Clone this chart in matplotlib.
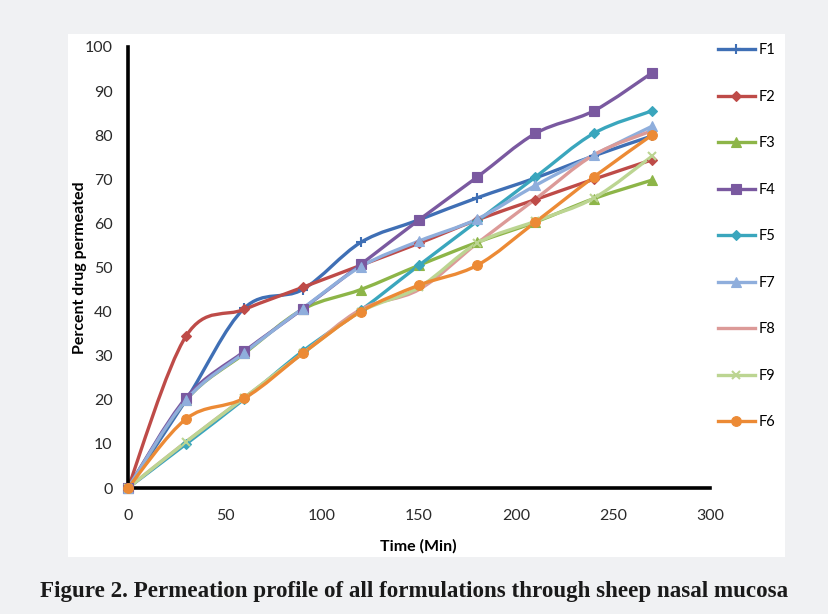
import matplotlib
matplotlib.use("Agg")
import matplotlib.pyplot as plt
from matplotlib.path import Path
from matplotlib.patches import PathPatch, Rectangle
from matplotlib.lines import Line2D

# Time points (min)
time = [0, 30, 60, 90, 120, 150, 180, 210, 240, 270]

# Percent drug permeated
f1 = [0, 20.0, 40.8, 45.0, 55.7, 60.8, 65.8, 70.3, 75.3, 79.8]
f2 = [0, 34.5, 40.5, 45.5, 50.5, 55.5, 60.8, 65.4, 70.0, 74.4]
f3 = [0, 20.0, 30.5, 40.5, 45.0, 50.5, 55.7, 60.3, 65.6, 69.8]
f4 = [0, 20.5, 31.0, 40.6, 50.7, 60.8, 70.5, 80.4, 85.5, 94.1]
f5 = [0, 10.0, 20.2, 31.0, 40.3, 50.5, 60.5, 70.5, 80.4, 85.5]
f7 = [0, 20.0, 30.7, 40.7, 50.2, 56.0, 61.0, 68.6, 75.5, 82.0]
f8 = [0, 10.5, 20.5, 30.5, 40.5, 45.0, 55.5, 65.5, 75.5, 81.0]
f9 = [0, 10.5, 20.5, 30.5, 40.0, 45.5, 55.5, 60.5, 65.7, 75.2]
f6 = [0, 15.7, 20.4, 30.5, 40.0, 46.0, 50.5, 60.3, 70.5, 80.0]

labels = ["F1", "F2", "F3", "F4", "F5", "F7", "F8", "F9", "F6"]
series = [f1, f2, f3, f4, f5, f7, f8, f9, f6]
colors = ["#3f6fb5", "#be4b48", "#8db548", "#7a59a0", "#3aa6bd",
          "#8faedc", "#dc9a98", "#bcd592", "#ec8a35"]
markers = ["+", "D", "^", "s", "D", "^", "", "x", "o"]
msizes = [7, 5, 7, 7, 5, 7, 0, 6, 7]


def smooth_path(x, y):
    # Excel-style smoothed line: Catmull-Rom segments as cubic Bezier curves
    pts = list(zip(x, y))
    n = len(pts)
    verts = [pts[0]]
    codes = [Path.MOVETO]
    for i in range(n - 1):
        p0 = pts[i - 1] if i > 0 else pts[i]
        p1 = pts[i]
        p2 = pts[i + 1]
        p3 = pts[i + 2] if i + 2 < n else pts[i + 1]
        c1 = (p1[0] + (p2[0] - p0[0]) / 6, p1[1] + (p2[1] - p0[1]) / 6)
        c2 = (p2[0] - (p3[0] - p1[0]) / 6, p2[1] - (p3[1] - p1[1]) / 6)
        verts += [c1, c2, p2]
        codes += [Path.CURVE4] * 3
    return Path(verts, codes)


fig = plt.figure(figsize=(8.29, 6.14), dpi=100)
fig.patch.set_facecolor("#f0f1f3")

# white chart panel
fig.patches.append(Rectangle((68 / 829, 1 - 557 / 614), 717 / 829, 523 / 614,
                             transform=fig.transFigure, facecolor="white",
                             edgecolor="none", zorder=-5))

ax = fig.add_axes([128 / 829, 1 - 488 / 614, 582 / 829, 441 / 614])
ax.set_facecolor("none")

handles = []
for lab, vals, c, m, s in zip(labels, series, colors, markers, msizes):
    patch = PathPatch(smooth_path(time, vals), facecolor="none", edgecolor=c,
                      lw=2.4, capstyle="round", joinstyle="round", zorder=2)
    ax.add_patch(patch)
    if m:
        ax.plot(time, vals, linestyle="none", marker=m, color=c, markersize=s,
                markeredgewidth=1.5 if m in "+x" else 0.8, clip_on=False, zorder=3)
    handles.append(Line2D([], [], color=c, lw=2.4, marker=m if m else None,
                          markersize=s, markeredgewidth=1.5 if m in "+x" else 0.8))

ax.set_xlim(0, 300)
ax.set_ylim(0, 100)
ax.set_xticks(range(0, 301, 50))
ax.set_yticks(range(0, 101, 10))

for side in ["top", "right"]:
    ax.spines[side].set_visible(False)
for side in ["left", "bottom"]:
    ax.spines[side].set_linewidth(2.6)
    ax.spines[side].set_color("black")

ax.tick_params(length=0, labelsize=11.5, colors="#2a2a2a")
ax.tick_params(axis="y", pad=11)
ax.tick_params(axis="x", pad=15)
for t in ax.get_xticklabels() + ax.get_yticklabels():
    t.set_family("Lato")

ax.set_xlabel("Time (Min)", fontsize=11.5, fontweight="bold", family="Lato")
ax.set_ylabel("Percent drug permeated", fontsize=11.5, fontweight="bold",
              family="Lato")
ax.xaxis.set_label_coords(0.498, -0.115)
ax.yaxis.set_label_coords(-0.07, 0.5)

leg = fig.legend(handles, labels, loc="upper left",
                 bbox_to_anchor=(705 / 829, 1 - 30 / 614), frameon=False,
                 handlelength=2.5, handletextpad=0.3, labelspacing=2.23,
                 prop={"family": "Lato", "size": 10.5})

fig.text(414 / 829, 1 - 592 / 614,
         "Figure 2. Permeation profile of all formulations through sheep nasal mucosa",
         ha="center", va="center", fontsize=16.6, fontweight="bold",
         family="Liberation Serif", color="#1a1a1a")

fig.savefig("out.png", dpi=100, facecolor=fig.get_facecolor())
